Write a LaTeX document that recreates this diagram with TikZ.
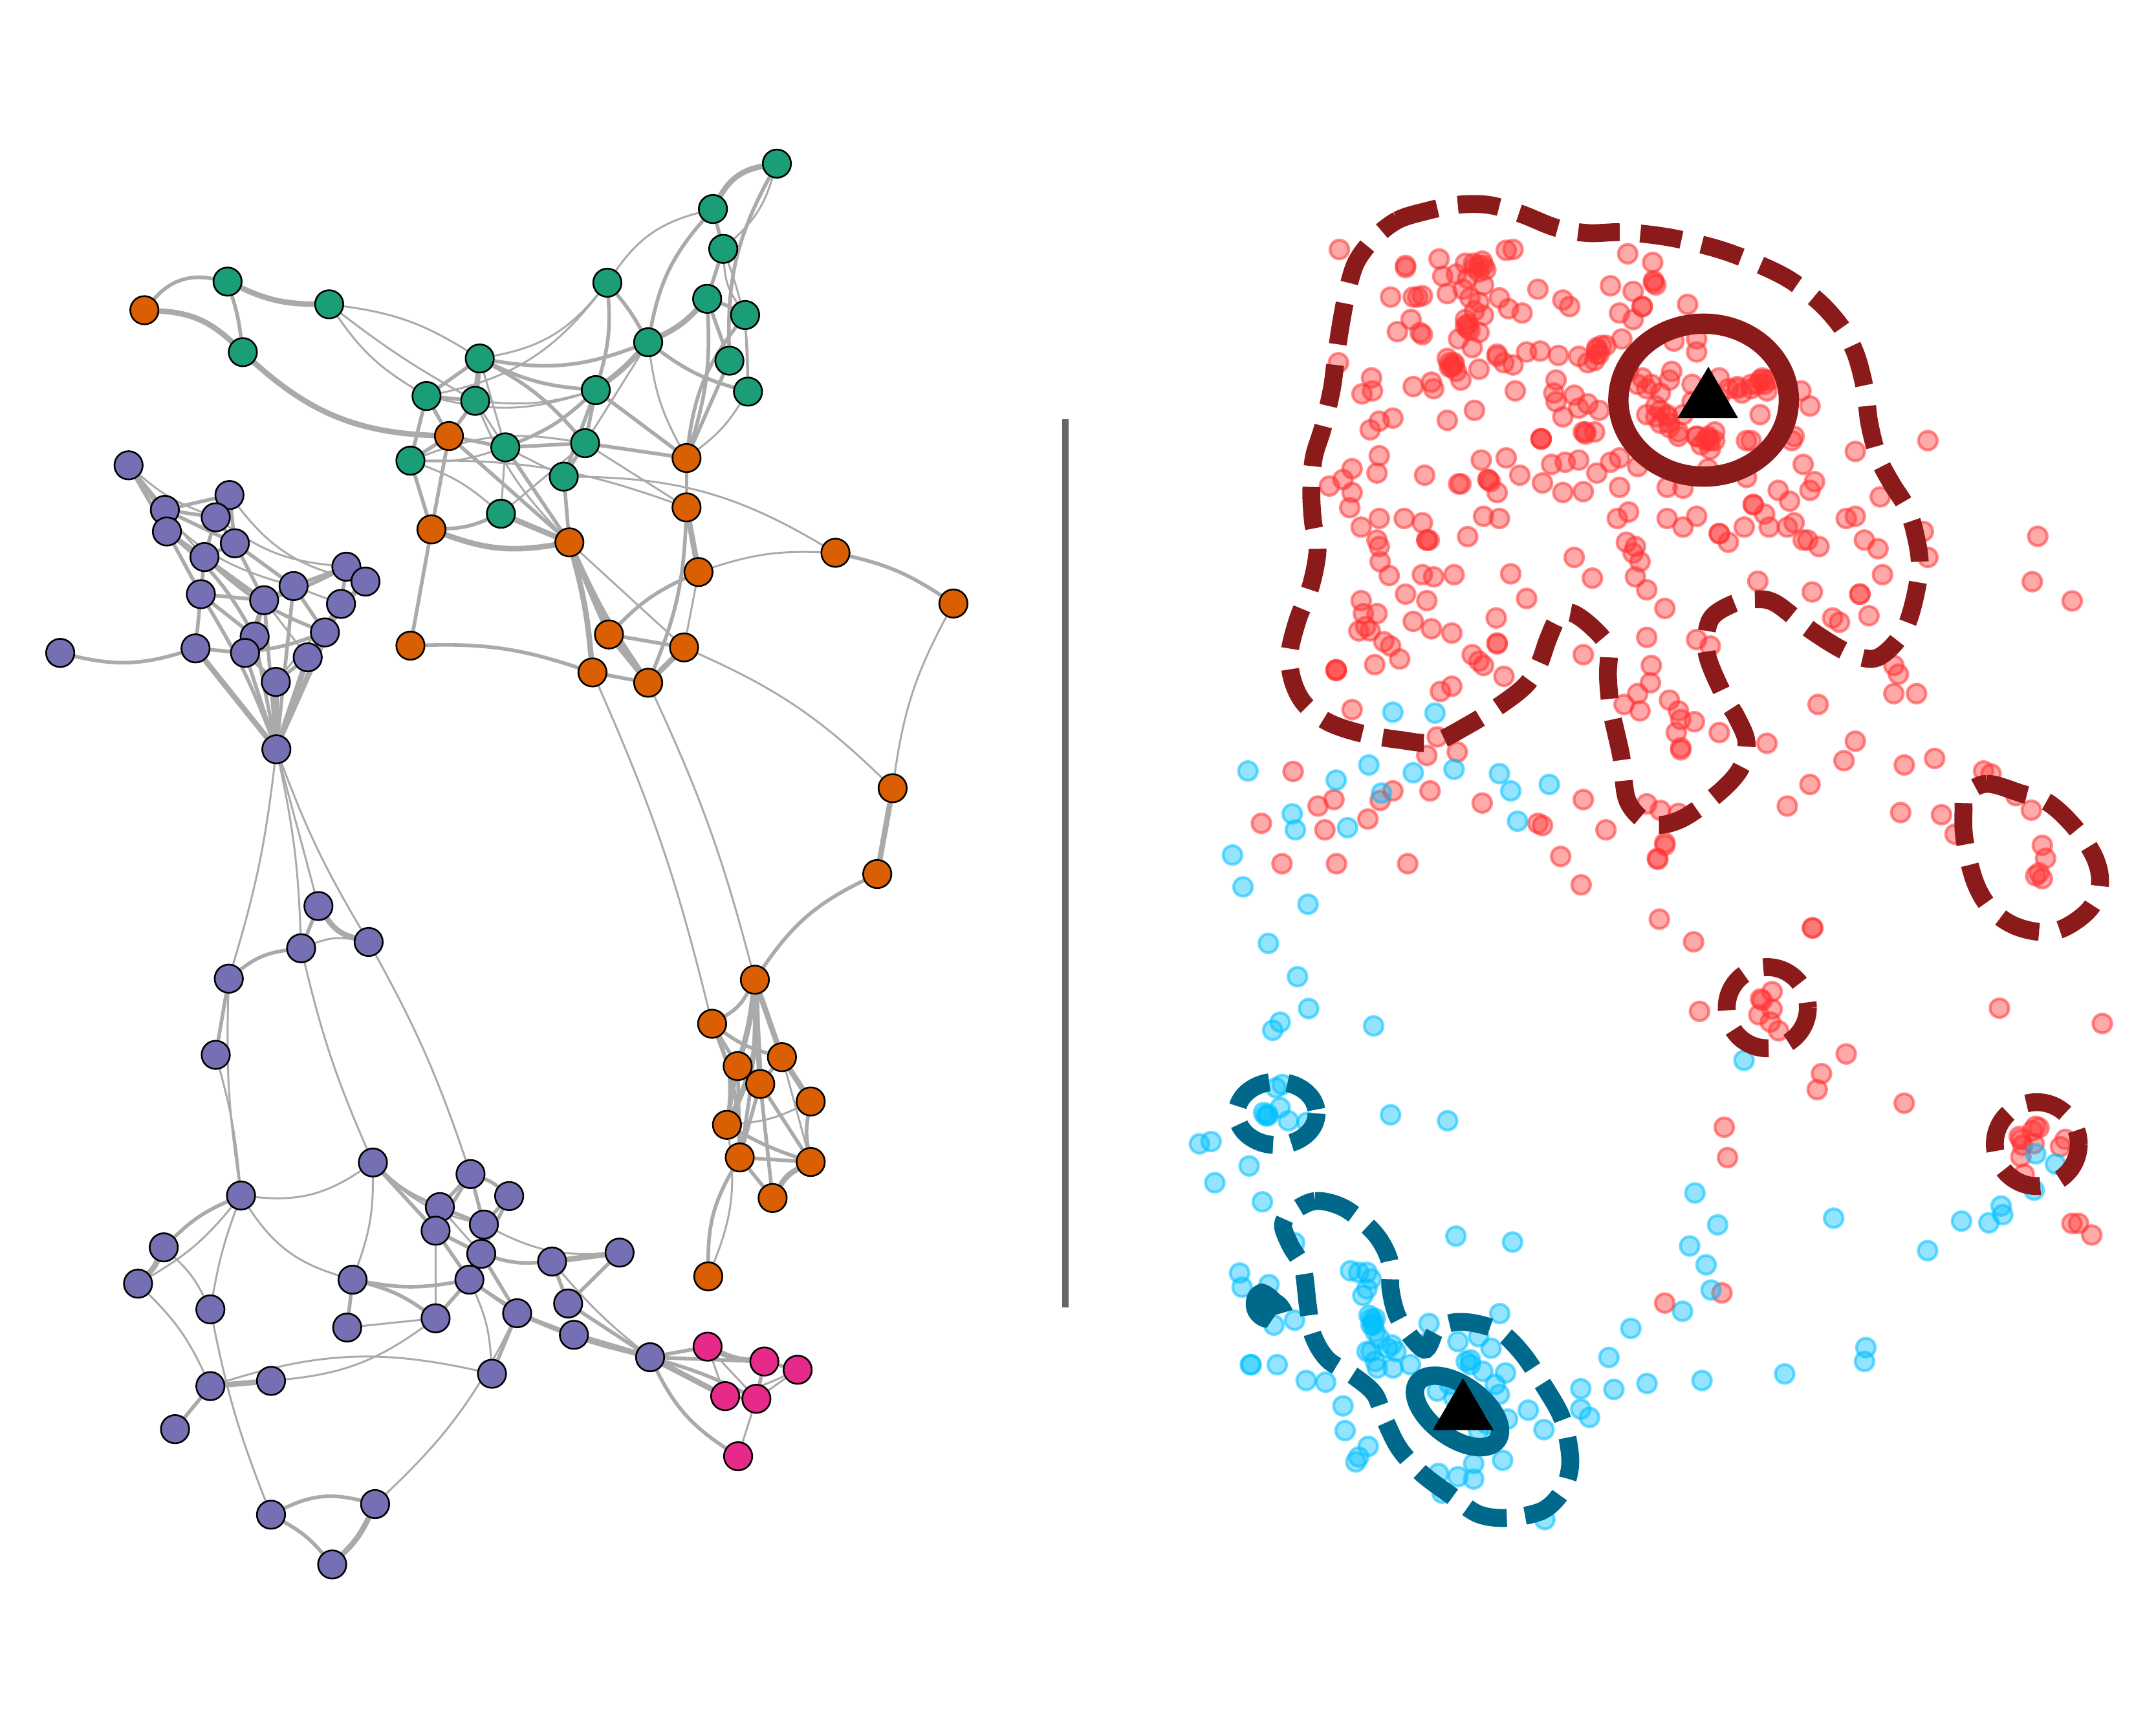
\documentclass[tikz,border=0pt]{standalone}
\pgfdeclarelayer{bg}
\pgfsetlayers{bg,main}
\definecolor{gteal}{HTML}{1B9E77}
\definecolor{gorange}{HTML}{D95F02}
\definecolor{gpurple}{HTML}{7570B3}
\definecolor{gpink}{HTML}{E7298A}
\definecolor{ecol}{HTML}{AAAAAA}
\definecolor{vcol}{HTML}{666666}
\definecolor{rcol}{HTML}{FF3333}
\definecolor{bcol}{HTML}{00BFFF}
\definecolor{rdark}{HTML}{8B1A1A}
\definecolor{bdark}{HTML}{00688B}
\begin{document}
\begin{tikzpicture}[x=0.01cm,y=-0.01cm,
  vt/.style={circle,draw=black,line width=0.35pt,minimum size=2.05mm,inner sep=0pt},
  tl/.style={vt,fill=gteal}, orr/.style={vt,fill=gorange},
  pu/.style={vt,fill=gpurple}, pk/.style={vt,fill=gpink},
  ea/.style={draw=ecol,line width=0.4pt},
  eb/.style={draw=ecol,line width=0.75pt},
  ec/.style={draw=ecol,line width=1.15pt},
  rpt/.style={draw=rcol,fill=rcol,fill opacity=0.42,draw opacity=0.55,line width=0.6pt},
  bpt/.style={draw=bcol,fill=bcol,fill opacity=0.42,draw opacity=0.55,line width=0.6pt},
  rcont/.style={draw=rdark,line width=3.7pt,dash pattern=on 8.6pt off 4.3pt},
  bcont/.style={draw=bdark,line width=3.7pt,dash pattern=on 8.6pt off 3.8pt}]
\useasboundingbox (0,0) rectangle (1568,1255);

% ---------------- graph nodes ----------------
\foreach \n/\u/\v in {T1/565/119,T2/518.5/152,T3/526/181,T4/441.7/205.6,T5/514.3/217.3,T6/541.9/229.1,T7/471.4/248.9,T8/530.5/262.3,T9/544/284.8,T10/348.9/260.7,T11/310.2/288,T12/345.6/291.5,T13/433.3/283.7,T14/367.5/325.3,T15/425.5/322.3,T16/298.5/335,T17/410/346.6,T18/364.3/373.6,T19/165.5/204.8,T20/239.4/221.3,T21/176.6/256.1}
  \node[tl] (\n) at (\u,\v) {};
\foreach \n/\u/\v in {O1/105/225.6,O2/326.5/317.1,O3/499.3/333.1,O4/499.3/369,O5/313.8/385,O6/414.1/394.4,O7/508/416,O8/607.6/402,O9/693.4/438.9,O10/298.5/469.5,O11/442.9/461.4,O12/497.5/470.8,O13/430.9/489,O14/471.4/496.5,O15/649.2/573.2,O16/638/635.6,O17/549/712.5,O18/517.9/744.5,O19/568.7/768.8,O20/536.5/775.3,O21/552.9/788.3,O22/589.6/801,O23/528.7/818,O24/538/841.7,O25/589.6/845,O26/561.9/871.2,O27/515.1/928.2}
  \node[orr] (\n) at (\u,\v) {};
\foreach \n/\u/\v in {P1/93.5/338.4,P2/119.9/370.8,P3/166.9/360,P4/156.9/376.2,P5/121.4/386.5,P6/170.8/395.1,P7/148.7/405.1,P8/251.9/412.1,P9/265.8/422.9,P10/213.5/426.2,P11/146.1/432.1,P12/192.1/436.5,P13/248/439.2,P14/236.3/459.9,P15/185.2/462.9,P16/178.2/474.8,P17/142.2/471.5,P18/223.8/478,P19/200.6/495.9,P20/43.8/474.8,P21/201/544.9,P22/231.6/658.9,P23/219/689.6,P24/268.1/685,P25/166.4/711.7,P26/156.9/767.1,P27/271.2/845.4,P28/342.2/853.8,P29/370.3/869.8,P30/175.3/869.4,P31/319.9/877.8,P32/316.8/895,P33/351.9/890.5,P34/350/911.8,P35/450.6/910.9,P36/119.1/907.1,P37/401.5/917.4,P38/100.4/933.5,P39/256.4/930.6,P40/341.4/930.6,P41/153/952.2,P42/413.2/947.9,P43/376.1/955,P44/316.8/958.7,P45/252.5/965.4,P46/417.4/970.7,P47/472.8/987,P48/357.8/999,P49/153/1008,P50/197.1/1004.2,P51/127.3/1039.3,P52/272.8/1093.8,P53/197.1/1101.5,P54/241.6/1137.7}
  \node[pu] (\n) at (\u,\v) {};
\foreach \n/\u/\v in {K1/514.6/979.3,K2/555.9/990.1,K3/580.1/996.1,K4/527.4/1015.3,K5/550.1/1017.2,K6/536.8/1059}
  \node[pk] (\n) at (\u,\v) {};

% ---------------- graph edges ----------------
\begin{pgfonlayer}{bg}
\foreach \a/\b/\s/\k in {
 O1/T19/eb/30, O1/T21/ec/20, T19/T21/eb/5, T19/T20/ec/-12, T21/O2/ec/-20,
 T20/T11/ea/-12, T20/T10/ea/12, T20/T12/ea/-4,
 T1/T2/ec/-25, T1/T3/ea/15, T1/T8/eb/-15, T2/T3/eb/0, T2/T4/ea/-20, T2/T7/eb/-15,
 T3/T5/eb/0, T3/T6/ea/-15, T3/T9/ea/10, T4/T13/eb/10, T4/T10/ea/20, T4/T11/ea/20,
 T4/T7/eb/5, T5/T7/ec/10, T5/T8/eb/0, T5/T6/eb/5, T6/T9/ea/0, T6/O3/eb/-15,
 T7/T13/ec/5, T7/T10/eb/15, T7/T15/ea/0, T7/O3/ea/-10, T7/T9/eb/-10, T8/O3/eb/0,
 T9/O3/ea/10, T5/O3/eb/10, T10/T11/eb/0, T10/T12/ec/0, T10/T13/eb/-10, T10/T15/eb/10,
 T10/T14/ea/0, T11/T12/eb/0, T11/O2/eb/0, T11/T16/eb/0, T12/O2/eb/0, T12/T14/ea/0,
 T12/O6/ea/-10, T13/T15/eb/0, T13/T17/eb/0, T13/T14/eb/10, T13/O3/eb/0, T14/T15/eb/0,
 T14/O2/eb/0, T14/T16/ea/10, T14/O6/eb/0, T14/T17/ea/0, T15/T17/eb/0, T15/O3/eb/0,
 T15/O4/ea/0, T16/O2/eb/0, T16/O5/eb/0, T16/T15/ea/15, T17/O6/eb/0, T17/O8/ea/15,
 T18/O5/eb/10, T18/O6/ec/0, T18/T14/ea/0, T18/T15/ea/0, T12/T13/ea/-10, T11/T13/ea/-15,
 T16/T18/ea/10, O2/O6/eb/0, O2/O5/eb/0, O5/O6/ec/-15, O5/O10/eb/0, O6/O11/ec/0,
 O6/O13/ec/5, O6/O14/ec/-5, O6/O12/ea/0, O3/O4/eb/0, O4/O7/ec/0, O4/O14/eb/10,
 O4/T16/ea/-10, O7/O11/eb/-10, O7/O8/ea/10, O7/O12/ea/0, O8/O9/eb/10, O9/O15/ea/-10,
 O11/O12/eb/0, O11/O14/ec/0, O12/O14/ec/0, O13/O14/eb/0, O10/O13/eb/10, O13/O18/ea/5,
 O14/O17/ea/5, O12/O15/ea/10, O15/O16/ec/0, O16/O17/eb/-15,
 O17/O18/eb/15, O17/O19/ec/0, O17/O20/ec/5, O17/O21/ec/0, O17/O23/ec/15, O17/O24/eb/5,
 O18/O19/eb/-10, O18/O20/eb/0, O18/O23/eb/15, O18/O24/eb/10, O19/O21/eb/0, O19/O22/ec/0,
 O19/O25/ea/0, O20/O21/eb/0, O20/O23/eb/0, O20/O24/eb/0, O21/O24/eb/0, O21/O25/eb/0,
 O21/O26/eb/0, O22/O25/eb/-10, O22/O23/ea/10, O23/O25/eb/-5, O24/O25/eb/0, O24/O26/eb/0,
 O25/O26/ec/-15, O23/O27/ea/15, O24/O27/eb/-15,
 P1/P2/eb/0, P1/P5/eb/0, P1/P4/ea/-10, P1/P10/ea/-20, P2/P3/eb/0, P2/P4/eb/0, P2/P5/eb/0,
 P2/P6/eb/0, P2/P12/ea/-10, P3/P4/eb/0, P3/P6/eb/0, P3/P9/ea/-20, P4/P6/eb/0, P4/P7/eb/0,
 P4/P8/ea/-15, P5/P7/eb/0, P5/P11/eb/0, P5/P15/eb/10, P6/P10/eb/0, P6/P12/eb/0, P6/P7/eb/0,
 P7/P11/eb/0, P7/P12/eb/0, P7/P14/eb/-10, P8/P9/eb/0, P8/P10/eb/0, P8/P13/eb/0, P8/P12/eb/5,
 P9/P13/eb/0, P9/P14/ea/0, P10/P12/eb/0, P10/P14/eb/0, P10/P13/ea/0, P11/P17/eb/0,
 P11/P12/eb/0, P11/P15/eb/0, P12/P15/eb/0, P12/P16/eb/0, P12/P18/ea/0, P13/P14/eb/0,
 P13/P19/ea/0, P14/P18/eb/0, P14/P16/eb/5, P15/P16/eb/0, P16/P17/eb/0, P16/P19/eb/0,
 P17/P20/eb/15, P17/P21/ec/0, P18/P19/eb/0, P19/P21/ec/0, P15/P21/eb/0, P16/P21/eb/0,
 P18/P21/ec/0, P14/P21/eb/0, P12/P21/eb/0, P10/P21/eb/0, P13/P21/eb/0, P11/P21/eb/5,
 P21/P22/ea/0, P21/P23/ea/5, P21/P24/ea/-5, P21/P25/ea/5,
 P22/P24/ec/-20, P22/P23/eb/0, P23/P24/ea/15, P23/P25/eb/-15, P25/P26/eb/0, P25/P30/ea/-5,
 P26/P30/ea/5, P23/P27/ea/-5, P24/P28/ea/5,
 P27/P30/ea/20, P30/P39/ea/-20, P30/P36/eb/-10, P30/P38/ea/10, P30/P41/ea/-5, P36/P38/ec/10,
 P36/P41/ea/10, P38/P49/ea/10, P27/P31/eb/-10, P27/P32/eb/0, P27/P33/ea/-15, P27/P39/ea/10,
 P28/P29/eb/10, P28/P31/eb/0, P28/P33/eb/0, P28/P32/eb/0, P29/P33/eb/0, P29/P34/eb/0,
 P31/P32/eb/0, P31/P33/eb/0, P31/P34/ea/0, P32/P34/eb/0, P33/P34/eb/0, P32/P40/eb/0,
 P34/P40/eb/0, P34/P43/eb/0, P34/P37/eb/-10, P33/P35/ea/-15, P35/P37/ec/0, P35/P42/eb/0,
 P37/P42/eb/0, P40/P43/eb/0, P40/P44/eb/0, P39/P40/eb/-10, P39/P44/eb/10, P39/P45/eb/0,
 P44/P45/ea/0, P43/P46/eb/0, P43/P47/eb/-5, P42/P47/eb/0, P46/P47/ec/0, P40/P47/ea/-10,
 P43/P48/eb/0, P40/P48/ea/10, P32/P44/ea/0, P49/P50/ec/0, P49/P51/eb/0, P49/P48/ea/15,
 P50/P44/ea/-15, P53/P41/ea/5, P52/P53/eb/-20, P52/P54/ec/10, P53/P54/eb/10, P52/P43/ea/-10,
 P37/P47/ea/-5, P47/K1/eb/0, P47/K2/eb/0, P47/K4/ec/0, P47/K5/eb/5, P47/K6/eb/-15,
 K1/K2/ec/-10, K1/K4/ea/0, K2/K3/eb/0, K2/K5/eb/0, K3/K5/ea/0, K4/K5/eb/0, K5/K6/ea/0,
 K3/K4/ea/5, K1/K5/ea/0}
  \draw[\s] (\a) to[bend left=\k] (\b);
\end{pgfonlayer}

% ---------------- divider ----------------
\coordinate (vtop) at (774.9,305);
\coordinate (vbot) at (774.9,951);
\draw[vcol,line width=1.35pt] (vtop) -- (vbot);

% ---------------- scatter points ----------------
\begin{scope}[shift={(917.37,131.72)},x=0.0033003cm,y=-0.0031503cm]
\foreach \u/\v in {172/158,318/195,318/200,392/180,468/190,487/185,495/205,540/160,555/158,808/168,863/188,450/190,480/195,490/195,470/200,480/210,
400/220,430/215,455/225,490/240,285/268,335/268,355/265,345/268,410/260,460/270,480/280,525/270,545/295,575/305,610/250,665/275,680/290,770/242,820/255,865/230,870/240,865/235,840/290,840/290,790/305,940/285,470/300,490/310,445/250,
330/320,300/348,350/350,355/355,455/340,455/330,460/345,450/335,450/320,480/350,435/365,465/385,520/400,585/395,615/393,655/403,700/405,740/385,760/380,795/365,820/320,910/370,960/395,960/365,745/400,735/415,740/400,740/390,750/380,720/420,520/405,
170/420,243/455,222/492,245/485,335/475,375/465,380/480,415/420,425/425,420/430,425/420,410/410,415/430,430/440,440/460,480/435,535/420,555/425,560/485,650/460,645/490,690/495,720/515,745/530,810/440,840/455,860/470,900/460,905/440,950/470,1010/455,1050/475,1080/480,1105/455,1110/460,1115/485,1190/485,1095/470,850/480,880/490,830/470,1080/470,1100/460,1110/470,1050/480,1120/460,
240/575,260/555,290/548,410/553,470/530,650/510,665/545,700/525,715/580,735/580,715/585,710/580,617/596,617/596,617/596,850/540,870/520,880/560,895/540,895/545,900/570,920/590,960/590,985/590,985/595,990/600,1000/580,880/530,900/560,920/580,960/590,980/600,1000/600,870/545,1080/600,1100/540,1175/590,1210/520,1310/625,1470/600,930/540,950/510,975/500,1030/480,1060/490,1010/500,
260/635,255/675,200/665,180/690,150/705,200/720,360/680,435/700,440/700,485/645,500/690,505/695,500/690,520/720,540/640,570/680,620/698,640/655,670/650,700/645,740/675,770/650,790/640,830/660,895/708,930/710,985/665,1070/685,1170/600,1195/655,1220/695,1210/715,1140/715,1165/740,1365/730,970/610,990/620,1070/600,
195/755,220/800,260/780,315/780,355/790,490/775,525/780,665/720,710/718,790/708,785/780,810/765,895/780,930/800,960/775,1010/815,1010/815,1065/800,1085/748,1085/748,1110/770,1120/800,1160/800,1175/790,1195/830,1230/845,1290/780,1310/775,1330/830,1360/850,1460/810,1470/870,1205/830,
255/830,260/845,370/830,365/830,365/830,455/822,805/835,820/860,835/880,825/845,690/870,730/918,550/908,262/880,282/912,355/910,380/915,425/910,825/915,850/945,1030/835,1095/925,1215/950,1370/910,
220/970,225/1000,255/1000,318/955,365/970,585/965,890/988,1320/955,1320/955,1340/1005,1260/1010,1275/1020,
215/1040,240/1040,230/1030,270/1065,285/1075,335/1018,375/1035,420/1045,520/1068,520/1070,518/1010,465/1095,480/1110,490/1120,710/1095,850/1055,960/1060,990/1075,
165/1130,165/1132,165/1130,250/1118,305/1105,395/1180,420/1168,535/1145,860/1120,858/1160,830/1185,800/1210,835/1225,900/1200,920/1225,925/1245,955/1250,1395/1120,1405/1140,1395/1185,1445/1185,1228/1210,
200/1222,388/1285,915/1275,1010/1275,1115/1300,1310/1295,925/1310,925/1315,
365/1328,432/1320,70/1365,1285/1340,1418/1350,1485/1335,1210/1395,160/1430,125/1445,262/1432,290/1410,372/1410,487/1438,710/1430,235/1475,140/1500,0/1485,620/1490,610/1485,760/1500,890/1530,1160/1445,1410/1460,1500/1465,1530/1510,850/1440,880/1455,920/1462}
  \filldraw[rpt] (\u,\v) circle[radius=0.068cm];
\foreach \u/\v in {290/1228,383/1230,237/1350,165/1385,265/1415,335/1368,425/1360,525/1370,550/1410,635/1395,68/1463,75/1500,190/1495,565/1480}
  \filldraw[bpt] (\u,\v) circle[radius=0.068cm];
\end{scope}
\begin{scope}[shift={(846.8,517.49)},x=0.0045004cm,y=-0.0021002cm]
\foreach \u/\v in {1323/205,1335/215,1375/290,1400/340,190/525,278/525,393/525,673/598,640/500,797/510}
  \filldraw[rpt] (\u,\v) circle[radius=0.068cm];
\foreach \u/\v in {135/205,110/495,127/605,232/665,168/800,215/915,233/1025,187/1072,175/1100,338/1085}
  \filldraw[bpt] (\u,\v) circle[radius=0.068cm];
\end{scope}
\begin{scope}[shift={(846.8,752.71)},x=0.0030003cm,y=-0.0024002cm]
\foreach \u/\v in {547/242,685/260,85/330,113/323,205/397,122/448,237/506,705/610,842/628,315/630,182/722,188/765,253/757,315/865,265/880,208/1000,210/1000,273/1000,343/1048,390/1053,432/1125,437/1200,493/1248,463/1295,470/1280,1253/838,1128/890,1075/978,1007/1073,1087/1075,1167/1057,1300/1048,1500/1028,1007/1135,1028/1160,811/845,880/1138,918/1197,818/1290,748/1300,748/1347,710/1340,663/1330,672/1390,920/1470,825/1025,790/950,760/915,710/930,640/930,640/875,595/1000,553/1010,515/1010,480/790,450/715,490/720,500/860,510/900,550/940,490/960,740/985,770/1020,800/1060,810/1090,830/1165,
250/240,240/235,245/245,250/245,280/220,300/260,345/265,270/160,285/150,
470/720,500/740,490/770,495/850,505/880,520/920,540/950,560/960,500/960,510/990,505/870,500/880,510/860,660/1080,700/1100,740/1120,780/1180,760/1200,690/1060,740/1000,730/990}
  \filldraw[bpt] (\u,\v) circle[radius=0.068cm];
\filldraw[rpt] (1210,813) circle[radius=0.068cm];
\end{scope}
\begin{scope}[shift={(1176.1,611.58)},x=0.0024002cm,y=-0.0021002cm]
\foreach \u/\v in {145/15,122/60,128/270,232/348,593/300,593/300,250/588,435/545,440/550,470/520,470/580,430/600,465/625,490/655,695/735,620/803,607/858,871/905,325/988,335/1093,1160/577,1472/630,1290/15,1300/60,1270/120,1280/110,1290/130,1260/1000,1270/985,1220/1020,1225/1030,1280/990,1230/1050,1225/1090,1265/1045,1345/1055,1360/1030,1235/1150,1380/1320,1400/1320,1440/1360,318/1560}
  \filldraw[rpt] (\u,\v) circle[radius=0.068cm];
\foreach \u/\v in {385/757,1270/1080,1330/1115,1265/1205,1165/1260,1170/1290,1045/1312,1128/1318,942/1414,657/1302,236/1215,305/1325,220/1398,270/1463,285/1550}
  \filldraw[bpt] (\u,\v) circle[radius=0.068cm];
\end{scope}
\foreach \u/\v in {1482/390,1478/423,1507/437}
  \filldraw[rpt] (\u,\v) circle[radius=0.068cm];
\foreach \u/\v in {1357/980,1356/990}
  \filldraw[bpt] (\u,\v) circle[radius=0.068cm];

% ---------------- contours ----------------
\draw[rcont] plot[smooth cycle,tension=0.55] coordinates {
(1000,172.7) (1016.4,160.1) (1036.2,153.8) (1059.3,149) (1082.4,149) (1105.5,155.3) (1131.9,165.7) (1155,169.5) (1181.4,168.9) (1214.4,172.7) (1247.4,180.5) (1273.8,190) (1300.2,202.6) (1323.3,219.9) (1339.8,238.8) (1349.7,257.7) (1356.3,282.9) (1359.6,308.1) (1366.2,333.3) (1376.1,352.2) (1386,368) (1392.6,386.9) (1396,415) (1386,456) (1366,478) (1345,475) (1318,459) (1291.8,439) (1277.4,435.8) (1260.6,439) (1243.8,450.7) (1241.4,475.4) (1253.4,505.1) (1263,521.6) (1270.2,539.8) (1265.4,559.6) (1248.6,577.7) (1222.2,595.9) (1200.6,599.2) (1183.8,582.7) (1179,549.7) (1171.8,516.7) (1169.4,492) (1169.4,470.5) (1157.4,455.6) (1143,445.7) (1133.4,449) (1126.2,463.9) (1119,483.7) (1109.4,498.5) (1090.2,513.4) (1066.2,528.2) (1042.2,539.8) (1018.2,538.1) (989.4,533.2) (965.4,524.9) (948.6,511.7) (940.2,495.2) (937.8,475.4) (943.8,450.7) (953.4,425.9) (958.2,400) (955,380) (953.7,358.5) (955.4,333.3) (962,311.3) (968.6,282.9) (971.9,257.7) (975.2,235.7) (980.1,210.5) (986.7,190)};
\draw[rcont] plot[smooth cycle,tension=0.6] coordinates {
(1430,578) (1445,570) (1470,577) (1490,584) (1510,603) (1524,625) (1527,645) (1518,663) (1495,677) (1470,675) (1450,663) (1437,643) (1429,612) (1428,590)};
\draw[rcont] (1285.3,732.8) circle[radius=29.5];
\draw[rcont] (1481.3,832) circle[radius=30.5];
\draw[draw=rdark,line width=4.2pt] (1239,291) ellipse[x radius=62, y radius=55.6];

\draw[bcont] (928.5,809.7) ellipse[x radius=29, y radius=23];
\draw[bcont] plot[smooth cycle,tension=0.55] coordinates {
(938.5,882.4) (956.5,873.4) (978.1,878.8) (999.7,896.8) (1010.5,916.6) (1011.4,938.2) (1017.7,959.8) (1035.7,981.4) (1044.7,967) (1057.3,961.6) (1073.5,962.5) (1091.5,968.8) (1107.7,985) (1122.1,1006.6) (1134.7,1028.2) (1140.1,1046.2) (1141.9,1066) (1136.5,1084) (1122.1,1098.4) (1096.9,1103.8) (1075.3,1101.1) (1055.5,1087.6) (1033.9,1071.4) (1017.7,1053.4) (1006.9,1031.8) (999.7,1013.8) (985.3,1001.2) (965.5,988.6) (954.7,970.6) (951.1,949) (947.5,922) (938.5,905.8) (933.1,891.4)};
\fill[bdark] (917.7,933.3) .. controls (908,935) and (903,946) .. (907.8,956.2) .. controls (911,962) and (916,965) .. (921.3,965.6) -- (927.6,956.2) -- (940.2,952.6) .. controls (937,946) and (934,943) .. (931.2,941.8) .. controls (927,937) and (922,934) .. (917.7,933.3) -- cycle;
\draw[draw=bdark,line width=3.8pt,rotate around={-36:(1060,1026.4)}] (1060,1026.4) ellipse[x radius=35.7, y radius=19];

% ---------------- triangles ----------------
\fill[black] (1242.5,266.7) -- (1264,304) -- (1220,304) -- cycle;
\fill[black] (1064,1002.2) -- (1086.2,1040) -- (1042,1040) -- cycle;
\end{tikzpicture}
\end{document}
